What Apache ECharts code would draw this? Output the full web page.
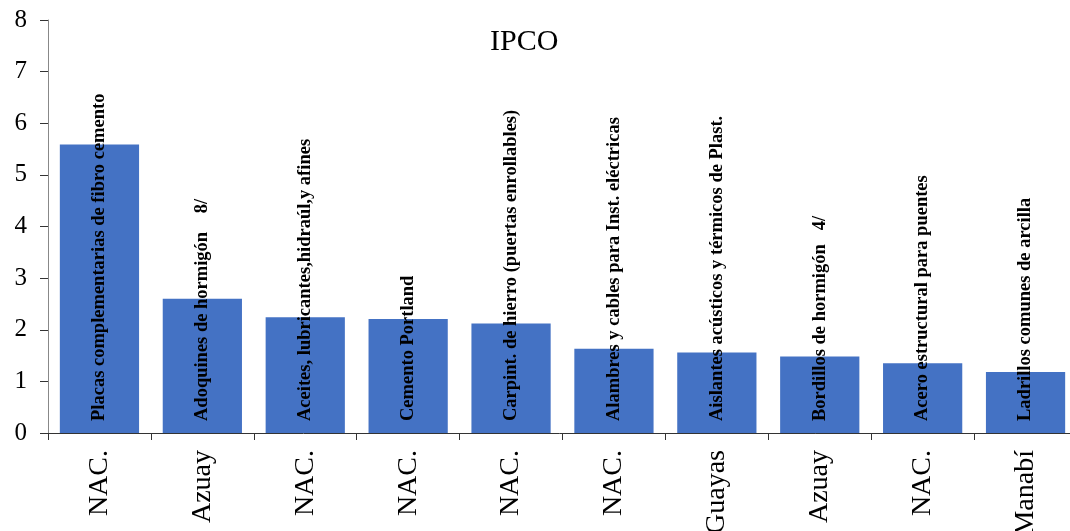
<!DOCTYPE html>
<html>
<head>
<meta charset="utf-8">
<script src="https://cdn.jsdelivr.net/npm/echarts@6/dist/echarts.min.js"></script>
<style>
html,body{margin:0;padding:0;background:#fff;}
#chart{width:1070px;height:531px;}
</style>
</head>
<body>
<div id="chart"></div>
<script>
const categories = ['NAC.', 'Azuay', 'NAC.', 'NAC.', 'NAC.', 'NAC.', 'Guayas', 'Azuay', 'NAC.', 'Manabí'];
const products = [
  'Placas complementarias de fibro cemento',
  'Adoquines de hormigón    8/',
  'Aceites, lubricantes,hidraúl,y afines',
  'Cemento Portland',
  'Carpint. de hierro (puertas enrollables)',
  'Alambres y cables para Inst. eléctricas',
  'Aislantes acústicos y térmicos de Plast.',
  'Bordillos de hormigón   4/',
  'Acero estructural para puentes',
  'Ladrillos comunes de arcilla'
];
const values = [5.59, 2.60, 2.24, 2.21, 2.12, 1.63, 1.56, 1.48, 1.35, 1.18];
const yMin = 0, yMax = 8, yStep = 1;

const serif = "'Liberation Serif', 'Times New Roman', serif";
const chart = echarts.init(document.getElementById('chart'));
chart.setOption({
  animation: false,
  backgroundColor: '#fff',
  title: {
    text: 'IPCO',
    left: 485,
    top: 22,
    textStyle: {fontFamily: serif, fontSize: 30, fontWeight: 'normal', color: '#000'}
  },
  grid: {left: 48, right: -7, top: 20, bottom: 98, containLabel: false, outerBoundsMode: 'none'},
  xAxis: {
    type: 'category',
    data: categories,
    axisLine: {lineStyle: {color: '#333', width: 1}},
    axisTick: {show: true, length: 7, lineStyle: {color: '#333'}},
    axisLabel: {interval: 0, rotate: 90, margin: 17, fontFamily: serif, fontSize: 28, color: '#000'}
  },
  yAxis: {
    type: 'value',
    min: yMin, max: yMax, interval: yStep,
    axisLine: {show: true, lineStyle: {color: '#888', width: 1}},
    axisTick: {show: true, length: 8, lineStyle: {color: '#333'}},
    splitLine: {show: false},
    axisLabel: {margin: 21, fontFamily: serif, fontSize: 25, color: '#000'}
  },
  series: [{
    type: 'bar',
    data: values,
    barCategoryGap: '23%',
    itemStyle: {color: '#4472C4'},
    label: {
      show: true,
      position: 'insideBottom',
      rotate: 90,
      align: 'left',
      verticalAlign: 'middle',
      distance: 12,
      formatter: p => products[p.dataIndex],
      fontFamily: serif,
      fontWeight: 'bold',
      fontSize: 18.5,
      color: '#000'
    }
  }]
});
</script>
</body>
</html>
